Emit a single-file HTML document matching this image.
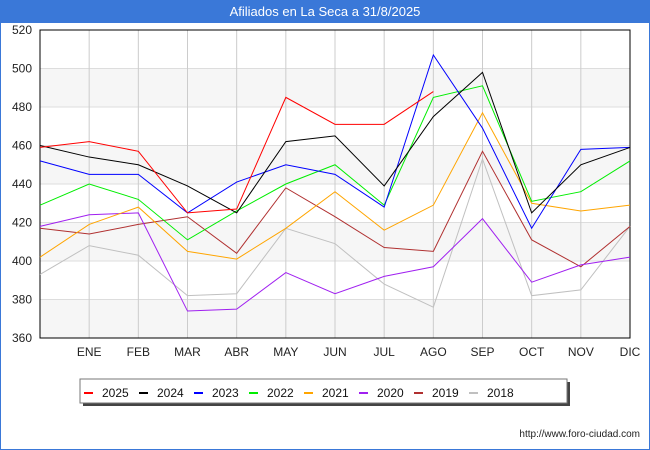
<!DOCTYPE html>
<html><head><meta charset="utf-8"><style>
body{margin:0;background:#fff;font-family:"Liberation Sans",sans-serif}
#wrap{position:relative;width:648px;height:448px;border:1px solid #3a78d8;background:#fff}
#title{height:22px;background:#3a78d8;color:#fff;font-size:13px;text-align:center;line-height:22px}
</style></head><body>
<div id="wrap">
<div id="title">Afiliados en La Seca a 31/8/2025</div>
<svg id="svg" width="650" height="450" style="position:absolute;left:-1px;top:-1px"></svg>
</div>
<script>
const months=["","ENE","FEB","MAR","ABR","MAY","JUN","JUL","AGO","SEP","OCT","NOV","DIC"];
const yTicks=[360,380,400,420,440,460,480,500,520];
const years=["2025","2024","2023","2022","2021","2020","2019","2018"];
const colors=["#ff0000","#000000","#0000ff","#00ee00","#ffa500","#a020f0","#b03030","#c0c0c0"];
const s2025=[459,462,457,425,427,485,471,471,488];
const s2024=[460,454,450,439,425,462,465,439,475,498,425,450,459];
const s2023=[452,445,445,425,441,450,445,428,507,469,417,458,459];
const s2022=[429,440,432,411,426,440,450,429,485,491,431,436,452];
const s2021=[402,419,428,405,401,417,436,416,429,477,430,426,429];
const s2020=[418,424,425,374,375,394,383,392,397,422,389,398,402];
const s2019=[417,414,419,423,404,438,423,407,405,457,411,397,418];
const s2018=[393,408,403,382,383,417,409,388,376,453,382,385,418];
const series=[s2025,s2024,s2023,s2022,s2021,s2020,s2019,s2018];
const L=40,R=630,T=30,B=338;
const x=i=>L+i*(R-L)/12;
const y=v=>T+(520-v)*(B-T)/160;
const svg=document.getElementById('svg');
const NS="http://www.w3.org/2000/svg";
function mk(tag,attrs,parent){const e=document.createElementNS(NS,tag);for(const k in attrs)e.setAttribute(k,attrs[k]);(parent||svg).appendChild(e);return e;}
for(let i=0;i<yTicks.length-1;i++){
  if(i%2===0){const r=mk('rect',{x:L,y:y(yTicks[i+1]),width:R-L,height:y(yTicks[i])-y(yTicks[i+1]),fill:'#f6f6f6'});
  
  }
}
yTicks.forEach(v=>{
  const l=mk('line',{x1:L,x2:R,y1:y(v),y2:y(v),stroke:'#dddddd'});
  
  
  const t=mk('text',{x:L-8,y:y(v)+4,'text-anchor':'end','font-size':12,fill:'#222'});
  t.textContent=v;
  
  
});
months.forEach((m,i)=>{
  if(i>0){const l=mk('line',{x1:x(i),x2:x(i),y1:T,y2:B,stroke:'#cccccc'});
  
  }
  const t=mk('text',{x:x(i),y:B+18,'text-anchor':'middle','font-size':12,fill:'#222'});
  t.textContent=m;
  
  
});
const fr=mk('rect',{x:L,y:T,width:R-L,height:B-T,fill:'none',stroke:'#000'});


for(let s=series.length-1;s>=0;s--){
  const p=mk('polyline',{points:series[s].map((v,i)=>x(i)+','+y(v)).join(' '),fill:'none',stroke:colors[s],'stroke-width':1});
  
  
}
const ls=mk('rect',{x:83,y:382,width:487,height:24,fill:'#444'});


const lg=mk('rect',{x:80,y:379,width:487,height:24,fill:'#fff',stroke:'#777'});


years.forEach((yr,i)=>{
  const bx=84+i*55;
  const ln=mk('line',{x1:bx,x2:bx+9,y1:393,y2:393,stroke:colors[i],'stroke-width':2});
  
  
  const t=mk('text',{x:bx+18,y:397,'font-size':12,fill:'#111'});
  t.textContent=yr;
  
  
});
const u=mk('text',{x:640,y:437,'text-anchor':'end','font-size':10,fill:'#222'});
u.textContent='http://www.foro-ciudad.com';


</script>
</body></html>
